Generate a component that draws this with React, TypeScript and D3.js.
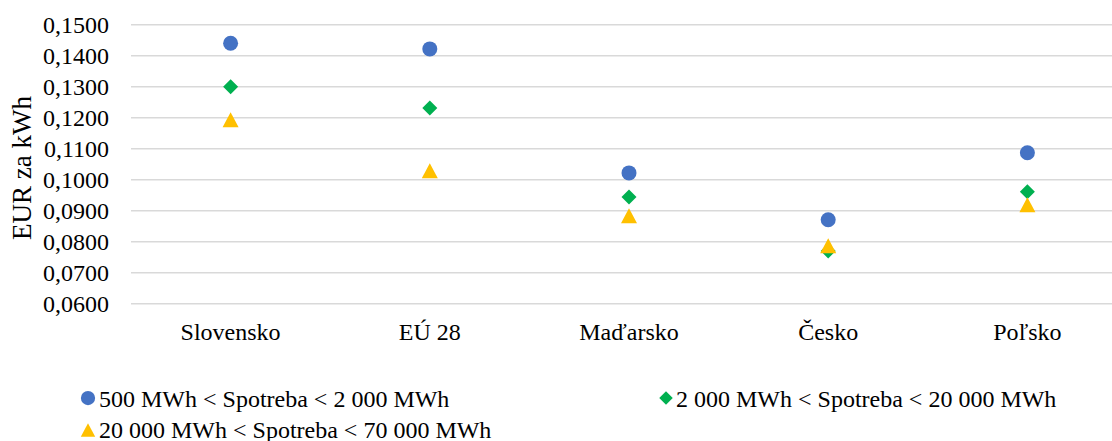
import React from "react";
import * as d3 from "d3";

const categories = ["Slovensko", "EÚ 28", "Maďarsko", "Česko", "Poľsko"];
const seriesNames = [
  "500 MWh < Spotreba < 2 000 MWh",
  "2 000 MWh < Spotreba < 20 000 MWh",
  "20 000 MWh < Spotreba < 70 000 MWh",
];
const smallValues = [0.144, 0.1422, 0.1022, 0.0871, 0.1087];
const mediumValues = [0.13, 0.1231, 0.0944, 0.077, 0.0961];
const largeValues = [0.1193, 0.1029, 0.0884, 0.0787, 0.0919];
const yTicks = [0.06, 0.07, 0.08, 0.09, 0.1, 0.11, 0.12, 0.13, 0.14, 0.15];

const W = 1112;
const H = 441;
const FS = 24;
const colors = ["#4472C4", "#00B050", "#FFC000"];
const tStyle = { fontFamily: "Liberation Serif", fontSize: FS } as React.CSSProperties;
const titleStyle = { fontFamily: "Liberation Serif", fontSize: 27 } as React.CSSProperties;

export default function App() {
  const x = d3.scaleBand<string>().domain(categories).range([131, 1127]);
  const y = d3.scaleLinear().domain([0.06, 0.15]).range([303.7, 24.7]);
  const fmt = (v: number) => v.toFixed(4).replace(".", ",");
  const series = [smallValues, mediumValues, largeValues];

  const sym = (i: number) => {
    if (i === 0) return d3.symbol().type(d3.symbolCircle).size(Math.PI * 7.5 * 7.5)();
    if (i === 1) {
      const r = 7.5;
      return `M0,${-r}L${r},0L0,${r}L${-r},0Z`;
    }
    return `M0,-7.5L8,7.5L-8,7.5Z`;
  };

  return (
    <svg
      width={W}
      height={H}
      style={{ position: "absolute", left: 0, top: 0, background: "#fff" }}
    >
      {yTicks.map((t) => (
        <g key={t}>
          <line x1={131} x2={1127} y1={y(t)} y2={y(t)} stroke="#D9D9D9" strokeWidth={1.5} />
          <text x={109} y={y(t)} dy="0.33em" textAnchor="end" fill="#000" style={tStyle}>
            {fmt(t)}
          </text>
        </g>
      ))}
      <text
        transform={`translate(31,168) rotate(-90)`}
        textAnchor="middle"
        fill="#000"
        style={titleStyle}
      >
        EUR za kWh
      </text>
      {categories.map((c) => (
        <text
          key={c}
          x={(x(c) ?? 0) + x.bandwidth() / 2}
          y={340}
          textAnchor="middle"
          fill="#000"
          style={tStyle}
        >
          {c}
        </text>
      ))}
      {series.map((vals, si) =>
        vals.map((v, ci) => (
          <path
            key={`${si}-${ci}`}
            d={sym(si) as string}
            transform={`translate(${(x(categories[ci]) ?? 0) + x.bandwidth() / 2},${y(v)})`}
            fill={colors[si]}
          />
        ))
      )}
      {[
        { i: 0, mx: 88, my: 398, ty: 399.5, tx: 99 },
        { i: 1, mx: 666, my: 398, ty: 399.5, tx: 676 },
        { i: 2, mx: 88, my: 430, ty: 430.5, tx: 99 },
      ].map(({ i, mx, my, ty, tx }) => (
        <g key={i}>
          <path
            d={sym(i) as string}
            transform={`translate(${mx},${my}) scale(${i === 0 ? 0.95 : 0.9})`}
            fill={colors[i]}
          />
          <text x={tx} y={ty} dy="0.33em" fill="#000" style={tStyle}>
            {seriesNames[i]}
          </text>
        </g>
      ))}
    </svg>
  );
}
